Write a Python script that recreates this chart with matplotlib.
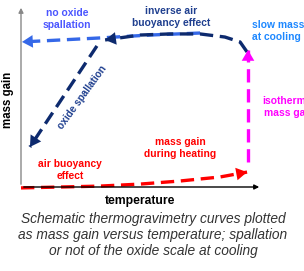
import matplotlib.pyplot as plt

# schematic TG curves, arbitrary units (temperature, mass gain) on 0..100 scales
heat_T = [0, 16.6, 32.8, 49.4, 66.0, 82.6, 93.8]
heat_m = [-0.5, 0.0, 0.5, 1.6, 3.3, 5.5, 8.2]

iso_T = [94.2, 94.2]
iso_m = [13.7, 75.3]

cool_T = [93.8, 90.9, 84.6, 74.3, 61.8, 49.4, 34.9]
cool_m = [74.2, 79.7, 82.4, 84.1, 84.1, 83.5, 80.8]

spall_T = [31.5, 3.7]
spall_m = [77.5, 22.0]

nospall_T = [74.3, 53.5, 32.8, 0.4]
nospall_m = [84.6, 83.5, 81.9, 79.7]

RED = '#ff0000'
MAG = '#ff00ff'
NAVY = '#0d2a6e'
BLUE = '#3568e8'

plt.rcParams['font.family'] = ['Liberation Sans', 'DejaVu Sans']

fig = plt.figure(figsize=(3.04, 2.71), dpi=100)
ax = fig.add_axes([21 / 304, 84 / 271, 241 / 304, 182 / 271])
ax.set_xlim(0, 100)
ax.set_ylim(0, 100)
ax.axis('off')

# axes arrows
ax.annotate('', xy=(0, 1.0), xytext=(0, 0), xycoords='axes fraction',
            arrowprops=dict(arrowstyle='-|>', color='#888888', lw=1.0, mutation_scale=7))
ax.annotate('', xy=(1.0, 0), xytext=(0, 0), xycoords='axes fraction',
            arrowprops=dict(arrowstyle='-|>', color='black', lw=1.0, mutation_scale=7))

dash = (0, (4, 2))


def curve(T, m, color, lw=2.4):
    ax.plot(T, m, color=color, lw=lw, linestyle=dash, clip_on=False, solid_capstyle='butt')
    ax.annotate('', xy=(T[-1], m[-1]), xytext=(T[-2], m[-2]),
                arrowprops=dict(arrowstyle='-|>,head_length=0.6,head_width=0.35',
                                color=color, lw=0, mutation_scale=13,
                                shrinkA=0, shrinkB=0),
                annotation_clip=False)


curve(nospall_T, nospall_m, BLUE)
curve(heat_T, heat_m, RED)
curve(iso_T, iso_m, MAG)
curve(cool_T, cool_m, NAVY)
curve(spall_T, spall_m, NAVY)

kw = dict(fontsize=7.4, fontweight='bold', ha='center', va='center',
          linespacing=1.2, clip_on=False)
ax.text(19.1, 92.3, 'no oxide\nspallation', color='#4a55ff', **kw)
ax.text(62.2, 93.4, 'inverse air\nbuoyancy effect', color='#1f3f8f', **kw)
ax.text(95.9, 85.7, 'slow mass gain\nat cooling stage', color='#1e88ff',
        fontsize=7.4, fontweight='bold', ha='left', va='center', linespacing=1.2)
ax.text(111.2, 44.0, 'isothermal\nmass gain', color=MAG, **kw)
ax.text(20.3, 9.3, 'air buoyancy\neffect', color=RED, **kw)
ax.text(66.0, 21.4, 'mass gain\nduring heating', color=RED, **kw)
ax.text(25.3, 49.5, 'oxide spallation', color='#1f3f8f', rotation=54,
        rotation_mode='anchor', fontsize=7.2, fontweight='bold',
        ha='center', va='center')

fig.text(8 / 304, 1 - 100 / 271, 'mass gain', rotation=90, fontsize=8.3,
         fontweight='bold', ha='center', va='center')
fig.text(140 / 304, 1 - 201 / 271, 'temperature', fontsize=8.7,
         fontweight='bold', ha='center', va='center')

caption = ['Schematic thermogravimetry curves plotted',
           'as mass gain versus temperature; spallation',
           'or not of the oxide scale at cooling']
for i, line in enumerate(caption):
    fig.text(153 / 304, 1 - (219 + 16 * i) / 271, line, fontsize=9.9,
             style='italic', color='#333333', ha='center', va='center')

fig.savefig('out.png', dpi=100)
